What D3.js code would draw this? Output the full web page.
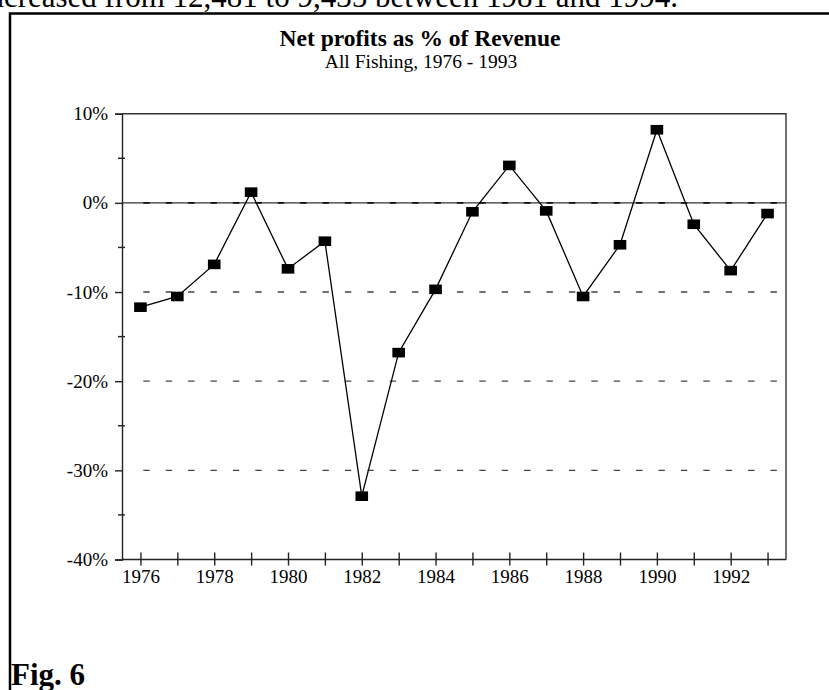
<!DOCTYPE html>
<html>
<head>
<meta charset="utf-8">
<script src="https://d3js.org/d3.v7.min.js"></script>
<style>
    body { margin: 0; background: #fff; overflow: hidden; }
    svg { display: block; font-family: "Liberation Serif", "Times New Roman", serif; }
</style>
</head>
<body>
<svg id="chart" width="829" height="690"></svg>
<script>
/*
 * Chart data: net profits as % of revenue, all fishing
 */
var years = [1976, 1977, 1978, 1979, 1980, 1981, 1982, 1983, 1984,
             1985, 1986, 1987, 1988, 1989, 1990, 1991, 1992, 1993];
var profits = [-11.7, -10.5, -6.9, 1.2, -7.4, -4.3, -32.9, -16.8, -9.7,
               -1.0, 4.2, -0.9, -10.5, -4.7, 8.2, -2.4, -7.6, -1.2];
var yMajorTicks = [10, 0, -10, -20, -30, -40];
var yMinorTicks = [5, -5, -15, -25, -35];
var gridValues = [0, -10, -20, -30];

var svg = d3.select('#chart');

/*
 * Surrounding page: cut off body text, frame and figure label
 */
svg.append('text')
    .attr('x', 678)
    .attr('y', 7)
    .attr('text-anchor', 'end')
    .style('font-size', '31px')
    .text('increased from 12,481 to 9,435 between 1981 and 1994.');

svg.append('path')
    .attr('d', 'M10,690 V13.5 H829')
    .attr('fill', 'none')
    .attr('stroke', '#000')
    .attr('stroke-width', 2.5);

svg.append('text')
    .attr('x', 11)
    .attr('y', 685)
    .style('font-size', '31px')
    .style('font-weight', 'bold')
    .text('Fig. 6');

// Titles
svg.append('text')
    .attr('x', 420)
    .attr('y', 46)
    .attr('text-anchor', 'middle')
    .style('font-size', '23.5px')
    .style('font-weight', 'bold')
    .text('Net profits as % of Revenue');

svg.append('text')
    .attr('x', 421)
    .attr('y', 68)
    .attr('text-anchor', 'middle')
    .style('font-size', '19.5px')
    .text('All Fishing, 1976 - 1993');

/*
 * Scales
 */
var plotLeft = 122, plotRight = 786, plotTop = 113.7, plotBottom = 559.5;
var x = d3.scaleLinear().domain([1975.5, 1993.5]).range([plotLeft, plotRight]);
var y = d3.scaleLinear().domain([10, -40]).range([plotTop, plotBottom]);

var g = svg.append('g');

// Zero line (solid, dashes drawn on top of it below)
g.append('line')
    .attr('x1', plotLeft)
    .attr('x2', plotRight)
    .attr('y1', y(0))
    .attr('y2', y(0))
    .attr('stroke', '#333')
    .attr('stroke-width', 1.4);

// Dashed gridlines
g.selectAll('.grid')
    .data(gridValues)
    .enter().append('line')
    .attr('class', 'grid')
    .attr('x1', 143.3)
    .attr('x2', 778)
    .attr('y1', function(d) { return y(d); })
    .attr('y2', function(d) { return y(d); })
    .attr('stroke', function(d) { return d === 0 ? '#111' : '#444'; })
    .attr('stroke-width', function(d) { return d === 0 ? 1.8 : 1.3; })
    .attr('stroke-dasharray', '6.4,16');

// Plot frame: top and right edges
g.append('path')
    .attr('d', 'M' + plotLeft + ',' + plotTop + ' H' + plotRight + ' V' + plotBottom)
    .attr('fill', 'none')
    .attr('stroke', '#333')
    .attr('stroke-width', 1.4);

/*
 * Axes
 */
var yAxis = d3.axisLeft(y)
    .tickValues(yMajorTicks)
    .tickSize(7)
    .tickPadding(7)
    .tickFormat(function(d) { return d + '%'; });

var yAxisG = g.append('g')
    .attr('transform', 'translate(' + plotLeft + ',0)')
    .call(yAxis);

yAxisG.selectAll('.minor')
    .data(yMinorTicks)
    .enter().append('line')
    .attr('class', 'minor')
    .attr('x1', -4)
    .attr('x2', 3)
    .attr('y1', function(d) { return y(d); })
    .attr('y2', function(d) { return y(d); })
    .attr('stroke', '#222')
    .attr('stroke-width', 1.4);

var xAxis = d3.axisBottom(x)
    .tickValues(years)
    .tickSizeOuter(0)
    .tickFormat(function(d) { return d % 2 === 0 ? d : ''; });

var xAxisG = g.append('g')
    .attr('transform', 'translate(0,' + plotBottom + ')')
    .call(xAxis);

xAxisG.select('.domain')
    .attr('d', 'M' + plotLeft + ',0 H' + plotRight);

xAxisG.selectAll('.tick line')
    .attr('y1', -7)
    .attr('y2', 6);

xAxisG.selectAll('.tick text')
    .attr('y', 10)
    .attr('dy', '0.71em');

g.selectAll('.domain, .tick line')
    .attr('stroke', '#222')
    .attr('stroke-width', 1.4);

g.selectAll('.tick text')
    .attr('fill', '#000')
    .style('font-family', '"Liberation Serif", "Times New Roman", serif')
    .style('font-size', '19px');

/*
 * Series line and square markers
 */
var points = years.map(function(yr, i) { return {year: yr, value: profits[i]}; });

var line = d3.line()
    .x(function(d) { return x(d.year); })
    .y(function(d) { return y(d.value); });

g.append('path')
    .datum(points)
    .attr('d', line)
    .attr('fill', 'none')
    .attr('stroke', '#000')
    .attr('stroke-width', 1.3);

g.selectAll('.marker')
    .data(points)
    .enter().append('rect')
    .attr('class', 'marker')
    .attr('x', function(d) { return x(d.year) - 6.3; })
    .attr('y', function(d) { return y(d.value) - 4.8; })
    .attr('width', 12.6)
    .attr('height', 9.6)
    .attr('fill', '#000');
</script>
</body>
</html>
